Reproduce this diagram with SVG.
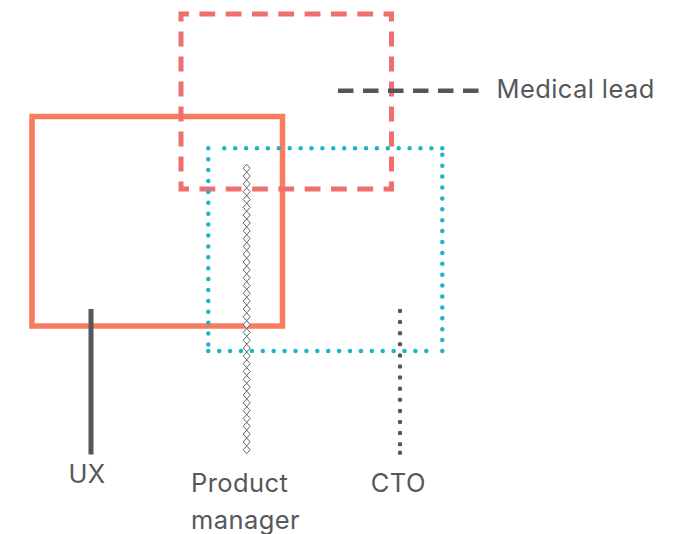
<svg xmlns="http://www.w3.org/2000/svg" width="684" height="534" viewBox="0 0 684 534">
  <style>
    .label { font-family: "Inter", "Liberation Sans", sans-serif; font-size: 25.5px; letter-spacing: 0.4px; fill: #54585c; }
    .lead { fill: none; stroke: #53575b; }
  </style>
  <rect width="684" height="534" fill="#ffffff"/>

  <!-- UX: solid coral region -->
  <g id="ux-region">
    <rect x="32" y="116.5" width="250.5" height="209.5" fill="none" stroke="#f97c5e" stroke-width="5.5"/>
  </g>

  <!-- Medical lead: dashed red region, dashes restart at each corner -->
  <g id="medical-lead-region">
    <path d="M199.41 14 H391.5 V189 H181 V14 Z" fill="none" stroke="#ef6f6f" stroke-width="5" stroke-linejoin="miter"
      stroke-dasharray="15.8 10.51 15.8 10.51 15.8 10.51 15.8 10.51 15.8 10.51 15.8 10.51 15.8 10.51 15.4 10 15 10 15 10 15 10 15 10 15 10 15 10 15.4 10.51 15.8 10.51 15.8 10.51 15.8 10.51 15.8 10.51 15.8 10.51 15.8 10.51 15.8 10.51 15.4 10 15 10 15 10 15 10 15 10 15 10 15 10 15.4 10.51"/>
  </g>

  <!-- CTO: dotted teal region, each side dotted from its own corner -->
  <g id="cto-region" fill="none" stroke="#1bb5c4" stroke-width="4.5" stroke-linecap="round" stroke-dasharray="0 10.9">
    <path d="M442.3 148.3 H214"/>
    <path d="M208.3 148.3 V351"/>
    <path d="M208.3 351 H436"/>
    <path d="M442.3 351 V150"/>
  </g>

  <!-- legend leaders -->
  <g id="connectors">
    <path id="medical-lead-line" class="lead" d="M338 90.7 H479" stroke-width="4.5" stroke-dasharray="15.5 9.5"/>
    <path id="ux-line" class="lead" d="M91 309 V454.5" stroke-width="5"/>
    <path id="cto-line" class="lead" d="M400 311 V453" stroke-width="4.5" stroke-linecap="round"
      stroke-dasharray="0 11.1 0 11.1 0 11.1 0 11.1 0 11.1 0 11.1 0 11.1 0 11.1 0 11.1 0 11.1 0 11.1 0 11.1 0 8.5 0 20"/>
    <!-- chain of 37 diamonds, 7.82 px apart -->
    <path id="product-manager-line" fill="#ffffff" stroke="#5f6366" stroke-width="1"
      d="M246.7 164.3
      l3.5 3.91-3.5 3.91-3.5-3.91zm0 7.82 l3.5 3.91-3.5 3.91-3.5-3.91zm0 7.82 l3.5 3.91-3.5 3.91-3.5-3.91zm0 7.82
      l3.5 3.91-3.5 3.91-3.5-3.91zm0 7.82 l3.5 3.91-3.5 3.91-3.5-3.91zm0 7.82 l3.5 3.91-3.5 3.91-3.5-3.91zm0 7.82
      l3.5 3.91-3.5 3.91-3.5-3.91zm0 7.82 l3.5 3.91-3.5 3.91-3.5-3.91zm0 7.82 l3.5 3.91-3.5 3.91-3.5-3.91zm0 7.82
      l3.5 3.91-3.5 3.91-3.5-3.91zm0 7.82 l3.5 3.91-3.5 3.91-3.5-3.91zm0 7.82 l3.5 3.91-3.5 3.91-3.5-3.91zm0 7.82
      l3.5 3.91-3.5 3.91-3.5-3.91zm0 7.82 l3.5 3.91-3.5 3.91-3.5-3.91zm0 7.82 l3.5 3.91-3.5 3.91-3.5-3.91zm0 7.82
      l3.5 3.91-3.5 3.91-3.5-3.91zm0 7.82 l3.5 3.91-3.5 3.91-3.5-3.91zm0 7.82 l3.5 3.91-3.5 3.91-3.5-3.91zm0 7.82
      l3.5 3.91-3.5 3.91-3.5-3.91zm0 7.82 l3.5 3.91-3.5 3.91-3.5-3.91zm0 7.82 l3.5 3.91-3.5 3.91-3.5-3.91zm0 7.82
      l3.5 3.91-3.5 3.91-3.5-3.91zm0 7.82 l3.5 3.91-3.5 3.91-3.5-3.91zm0 7.82 l3.5 3.91-3.5 3.91-3.5-3.91zm0 7.82
      l3.5 3.91-3.5 3.91-3.5-3.91zm0 7.82 l3.5 3.91-3.5 3.91-3.5-3.91zm0 7.82 l3.5 3.91-3.5 3.91-3.5-3.91zm0 7.82
      l3.5 3.91-3.5 3.91-3.5-3.91zm0 7.82 l3.5 3.91-3.5 3.91-3.5-3.91zm0 7.82 l3.5 3.91-3.5 3.91-3.5-3.91zm0 7.82
      l3.5 3.91-3.5 3.91-3.5-3.91zm0 7.82 l3.5 3.91-3.5 3.91-3.5-3.91zm0 7.82 l3.5 3.91-3.5 3.91-3.5-3.91zm0 7.82
      l3.5 3.91-3.5 3.91-3.5-3.91zm0 7.82 l3.5 3.91-3.5 3.91-3.5-3.91zm0 7.82 l3.5 3.91-3.5 3.91-3.5-3.91zm0 7.82
      l3.5 3.91-3.5 3.91-3.5-3.91z"/>
  </g>

  <!-- labels -->
  <g id="medical-lead">
    <text class="label" x="496.5" y="98.3">Medical lead</text>
  </g>
  <g id="ux">
    <text class="label" x="87" y="483.3" text-anchor="middle">UX</text>
  </g>
  <g id="product-manager">
    <text class="label" x="191" y="491.7">Product</text>
    <text class="label" x="191" y="529">manager</text>
  </g>
  <g id="cto">
    <text class="label" x="398.3" y="491.7" text-anchor="middle">CTO</text>
  </g>
</svg>
